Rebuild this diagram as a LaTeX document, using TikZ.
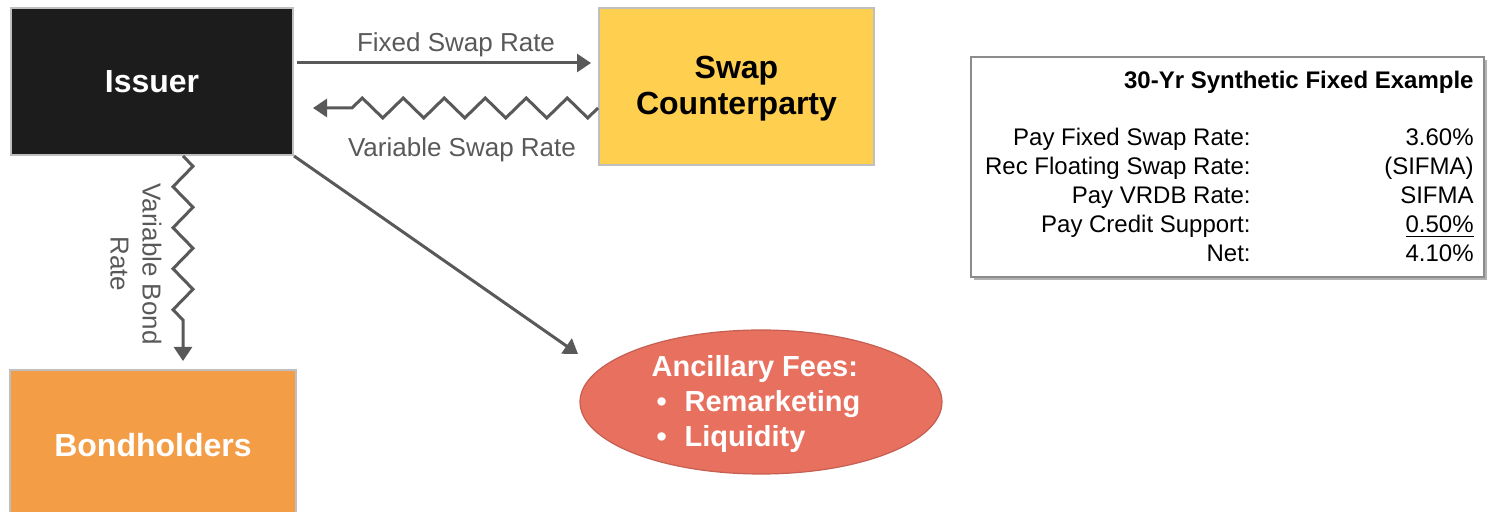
\documentclass[tikz,border=0pt]{standalone}
\usepackage{fontspec}
\setmainfont{Liberation Sans}
\usetikzlibrary{arrows.meta,decorations.pathmorphing,shapes.geometric,shadows,calc}
\definecolor{arrowgray}{HTML}{595959}
\definecolor{issuerblack}{HTML}{1C1C1C}
\definecolor{cpyellow}{HTML}{FFCF50}
\definecolor{bhorange}{HTML}{F49D47}
\definecolor{ellred}{HTML}{E8705F}
\definecolor{boxborder}{HTML}{BFBFBF}
\tikzset{
  entity/.style={draw=boxborder, line width=1pt, inner sep=0pt, align=center, font=\bfseries\fontsize{16}{18}\selectfont},
  arr/.style={draw=arrowgray, line width=1.5pt, -{Triangle[length=7pt,width=9pt]}},
  zz/.style={decorate, decoration={zigzag, segment length=20.5pt, amplitude=5pt, pre length=0pt, post length=13pt}},
  lbl/.style={text=arrowgray, font=\fontsize{13}{16}\selectfont, inner sep=0pt},
  tab/.style={font=\fontsize{12}{14}\selectfont, inner sep=0pt, anchor=base east}
}
\begin{document}
\begin{tikzpicture}[x=0.5pt,y=-0.5pt]
\useasboundingbox (0,0) rectangle (1490,512);
% entities
\node[entity, fill=issuerblack, text=white, minimum width=141pt, minimum height=73.5pt] (issuer) at (152,81.5) {Issuer};
\node[entity, fill=cpyellow, minimum width=137.5pt, minimum height=78.5pt] (cp) at (736.5,86.5) {};
\node[entity, draw=none, text=black] (cptext) at (736.5,89) {Swap\\Counterparty};
\node[entity, fill=bhorange, text=white, minimum width=143pt, minimum height=75pt] (bh) at (153,445) {Bondholders};
\node[ellipse, fill=ellred, draw=ellred!85!black, line width=0.6pt, minimum width=181pt, minimum height=72pt, inner sep=0pt] (ell) at (761,402) {};
\node[text=white, align=left, inner sep=0pt, font=\bfseries\fontsize{14.5}{17.5}\selectfont] (elltext) at (756,404)
  {Ancillary Fees:\\\makebox[16.5pt][l]{\,\textbullet}Remarketing\\\makebox[16.5pt][l]{\,\textbullet}Liquidity};
% table
\node[draw=black!45, line width=0.6pt, fill=white, minimum width=256.5pt, minimum height=110pt, inner sep=0pt,
      drop shadow={shadow xshift=1.5pt, shadow yshift=-1.5pt, fill=black!55, opacity=0.55}] (tbl) at (1227.5,167) {};
\node[tab, font=\bfseries\fontsize{12}{14}\selectfont] (ttl) at (1474,88.5) {30-Yr Synthetic Fixed Example};
\node[tab] (l1) at (1251,146) {Pay Fixed Swap Rate:};
\node[tab] (v1) at (1474,146) {3.60\%};
\node[tab] (l2) at (1251,175) {Rec Floating Swap Rate:};
\node[tab] (v2) at (1474,175) {(SIFMA)};
\node[tab] (l3) at (1251,204) {Pay VRDB Rate:};
\node[tab] (v3) at (1474,204) {SIFMA};
\node[tab] (l4) at (1251,233) {Pay Credit Support:};
\node[tab] (v4) at (1474,233) {\underline{0.50\%}};
\node[tab] (l5) at (1251,262) {Net:};
\node[tab] (v5) at (1474,262) {4.10\%};
% helper coordinates
\coordinate (yfix) at (0,63);
\coordinate (yvar) at (0,108);
\coordinate (xv) at (183,0);
\coordinate (diagend) at (578,354);
% connectors
\draw[arr] ($(issuer.east |- yfix)+(3,0)$) -- ($(cp.west |- yfix)+(-7,0)$)
  node[lbl, midway, above=2.5pt, xshift=6pt] {Fixed Swap Rate};
\draw[arr, zz] (cp.west |- yvar) -- ($(issuer.east |- yvar)+(19,0)$);
\node[lbl] (vsr) at (462,150) {Variable Swap Rate};
\draw[arr, zz] (issuer.south -| xv) -- ($(bh.north -| xv)+(0,-8)$);
\node[lbl, rotate=-90, align=center] (vbr) at (136,264) {Variable Bond\\Rate};
\draw[arr] (issuer.south east) -- (diagend);
\end{tikzpicture}
\end{document}
